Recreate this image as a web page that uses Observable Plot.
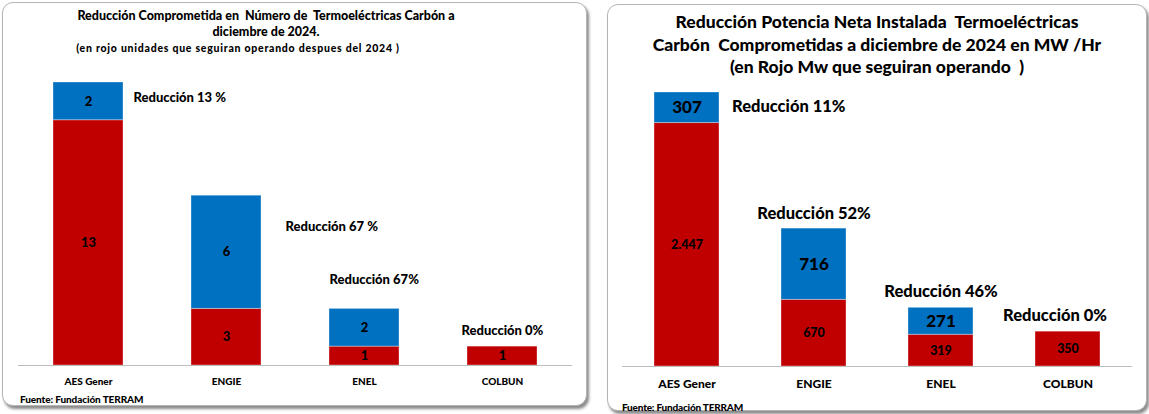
<!DOCTYPE html>
<html>
<head>
<meta charset="utf-8">
<script src="https://cdn.jsdelivr.net/npm/d3@7"></script>
<script src="https://cdn.jsdelivr.net/npm/@observablehq/plot@0.6"></script>
<style>
  html, body { margin: 0; padding: 0; background: #fff; }
  body { width: 1149px; height: 414px; position: relative; overflow: hidden; font-family: Lato, "Open Sans", sans-serif; }
  .panel { position: absolute; border: 1px solid #b5b5b5; border-radius: 11px; box-shadow: 2px 3px 3px #8a8a8a; background: #fff; z-index: 0; box-sizing: border-box; }
  .title { position: absolute; text-align: center; font-weight: 900; color: #000; white-space: pre; z-index: 2; }
  .src { position: absolute; font-weight: 900; color: #000; white-space: pre; z-index: 2; }
  .chart { position: absolute; z-index: 1; }
  .chart svg { background: transparent !important; overflow: visible; }
</style>
</head>
<body>
<div class="panel" style="left:2px;top:2px;width:585px;height:404px"></div>
<div class="panel" style="left:607px;top:4px;width:540px;height:407px"></div>

<div class="title" style="left:0px;top:8px;width:532px;font-size:12.5px;line-height:16px">Reducción Comprometida en  Número de  Termoeléctricas Carbón a
diciembre de 2024.
<span style="display:inline-block;margin-right:56px;font-size:10.5px;letter-spacing:0.75px">(en rojo unidades que seguiran operando despues del 2024 )</span></div>

<div class="title" style="left:607px;top:11px;width:540px;font-size:17.5px;line-height:22.5px">Reducción Potencia Neta Instalada  Termoeléctricas
Carbón  Comprometidas a diciembre de 2024 en MW /Hr
(en Rojo Mw que seguiran operando  )</div>

<div class="src" style="left:20px;top:393px;font-size:10px;letter-spacing:-0.1px">Fuente: Fundación TERRAM</div>
<div class="src" style="left:622px;top:401px;font-size:10px;letter-spacing:-0.2px">Fuente: Fundación TERRAM</div>

<div id="c1" class="chart" style="left:0px;top:0px"></div>
<div id="c2" class="chart" style="left:607px;top:0px"></div>

<script>
// ---- Data ----
const companies = ["AES Gener", "ENGIE", "ENEL", "COLBUN"];
// Chart 1: number of coal units
const unitsOperating = [13, 3, 1, 1];
const unitsReduced = [2, 6, 2, 0];
const unitsReductionPct = ["13 %", "67 %", "67%", "0%"];
// Chart 2: net installed capacity (MW)
const mwOperating = [2447, 670, 319, 350];
const mwReduced = [307, 716, 271, 0];
const mwReductionPct = ["11%", "52%", "46%", "0%"];

const RED = "#C00000";
const BLUE = "#0070C0";
const esFmt = d3.formatLocale({decimal: ",", thousands: ".", grouping: [3], currency: ["", ""]}).format(",");

function longRows(op, red) {
  const rows = [];
  companies.forEach((c, i) => {
    rows.push({company: c, series: "operando", value: op[i]});
    rows.push({company: c, series: "reducción", value: red[i]});
  });
  return rows;
}
function totals(op, red, pct) {
  return companies.map((c, i) => ({company: c, total: op[i] + red[i], note: "Reducción " + pct[i]}));
}

// ---- Chart 1 ----
{
  const rows = longRows(unitsOperating, unitsReduced);
  const tot = totals(unitsOperating, unitsReduced, unitsReductionPct);
  const note = (i, o) => Plot.text([tot[i]], {x: "company", y: "total", text: "note", fontSize: 13, fontWeight: 900, fill: "#000", ...o});
  const chart = Plot.plot({
    width: 586, height: 395,
    marginLeft: 18, marginRight: 14, marginTop: 82, marginBottom: 30,
    style: {fontFamily: "Lato, sans-serif", background: "transparent"},
    x: {domain: companies, paddingInner: 0.49, paddingOuter: 0.245, label: null},
    y: {domain: [0, d3.max(tot, d => d.total)], axis: null},
    color: {domain: ["operando", "reducción"], range: [RED, BLUE]},
    marks: [
      Plot.barY(rows, Plot.stackY({x: "company", y: "value", fill: "series", stroke: "#ffffff", strokeOpacity: 0.35, strokeWidth: 1})),
      Plot.text(rows, Plot.stackY({x: "company", y: "value", text: d => d.value > 0 ? String(d.value) : "", fontSize: 13, fontWeight: 900, fill: "#000"})),
      Plot.ruleY([0], {stroke: "#bdbdbd", strokeWidth: 1.2}),
      Plot.axisX({tickSize: 0, tickPadding: 12, fontSize: 10, fontWeight: 900, fill: "#000", label: null}),
      note(0, {textAnchor: "start", dx: 45, dy: 15}),
      note(1, {textAnchor: "start", dx: 59, dy: 31}),
      note(2, {textAnchor: "start", dx: -35, dy: -29}),
      note(3, {textAnchor: "start", dx: -41, dy: -16})
    ]
  });
  document.getElementById("c1").append(chart);
}

// ---- Chart 2 ----
{
  const rows = longRows(mwOperating, mwReduced);
  const tot = totals(mwOperating, mwReduced, mwReductionPct);
  const note = (i, o) => Plot.text([tot[i]], {x: "company", y: "total", text: "note", fontSize: 16.5, fontWeight: 900, fill: "#000", ...o});
  const chart = Plot.plot({
    width: 540, height: 400,
    marginLeft: 15, marginRight: 15, marginTop: 92, marginBottom: 34,
    style: {fontFamily: "Lato, sans-serif", background: "transparent"},
    x: {domain: companies, paddingInner: 0.49, paddingOuter: 0.245, label: null},
    y: {domain: [0, d3.max(tot, d => d.total)], axis: null},
    color: {domain: ["operando", "reducción"], range: [RED, BLUE]},
    marks: [
      Plot.barY(rows, Plot.stackY({x: "company", y: "value", fill: "series", stroke: "#ffffff", strokeOpacity: 0.35, strokeWidth: 1})),
      Plot.text(rows, Plot.stackY({x: "company", y: "value", text: d => d.series === "operando" && d.value > 0 ? esFmt(d.value) : "", fontSize: 12.5, fontWeight: 900, fill: "#000"})),
      Plot.text(rows, Plot.stackY({x: "company", y: "value", text: d => d.series === "reducción" && d.value > 0 ? esFmt(d.value) : "", fontSize: 17, fontWeight: 900, fill: "#000"})),
      Plot.ruleY([0], {stroke: "#bdbdbd", strokeWidth: 1.2}),
      Plot.axisX({tickSize: 0, tickPadding: 13, fontSize: 12, fontWeight: 900, fill: "#000", label: null}),
      note(0, {textAnchor: "start", dx: 45, dy: 14}),
      note(1, {dy: -15}),
      note(2, {dy: -16}),
      note(3, {dx: -13, dy: -16})
    ]
  });
  document.getElementById("c2").append(chart);
}
</script>
</body>
</html>
